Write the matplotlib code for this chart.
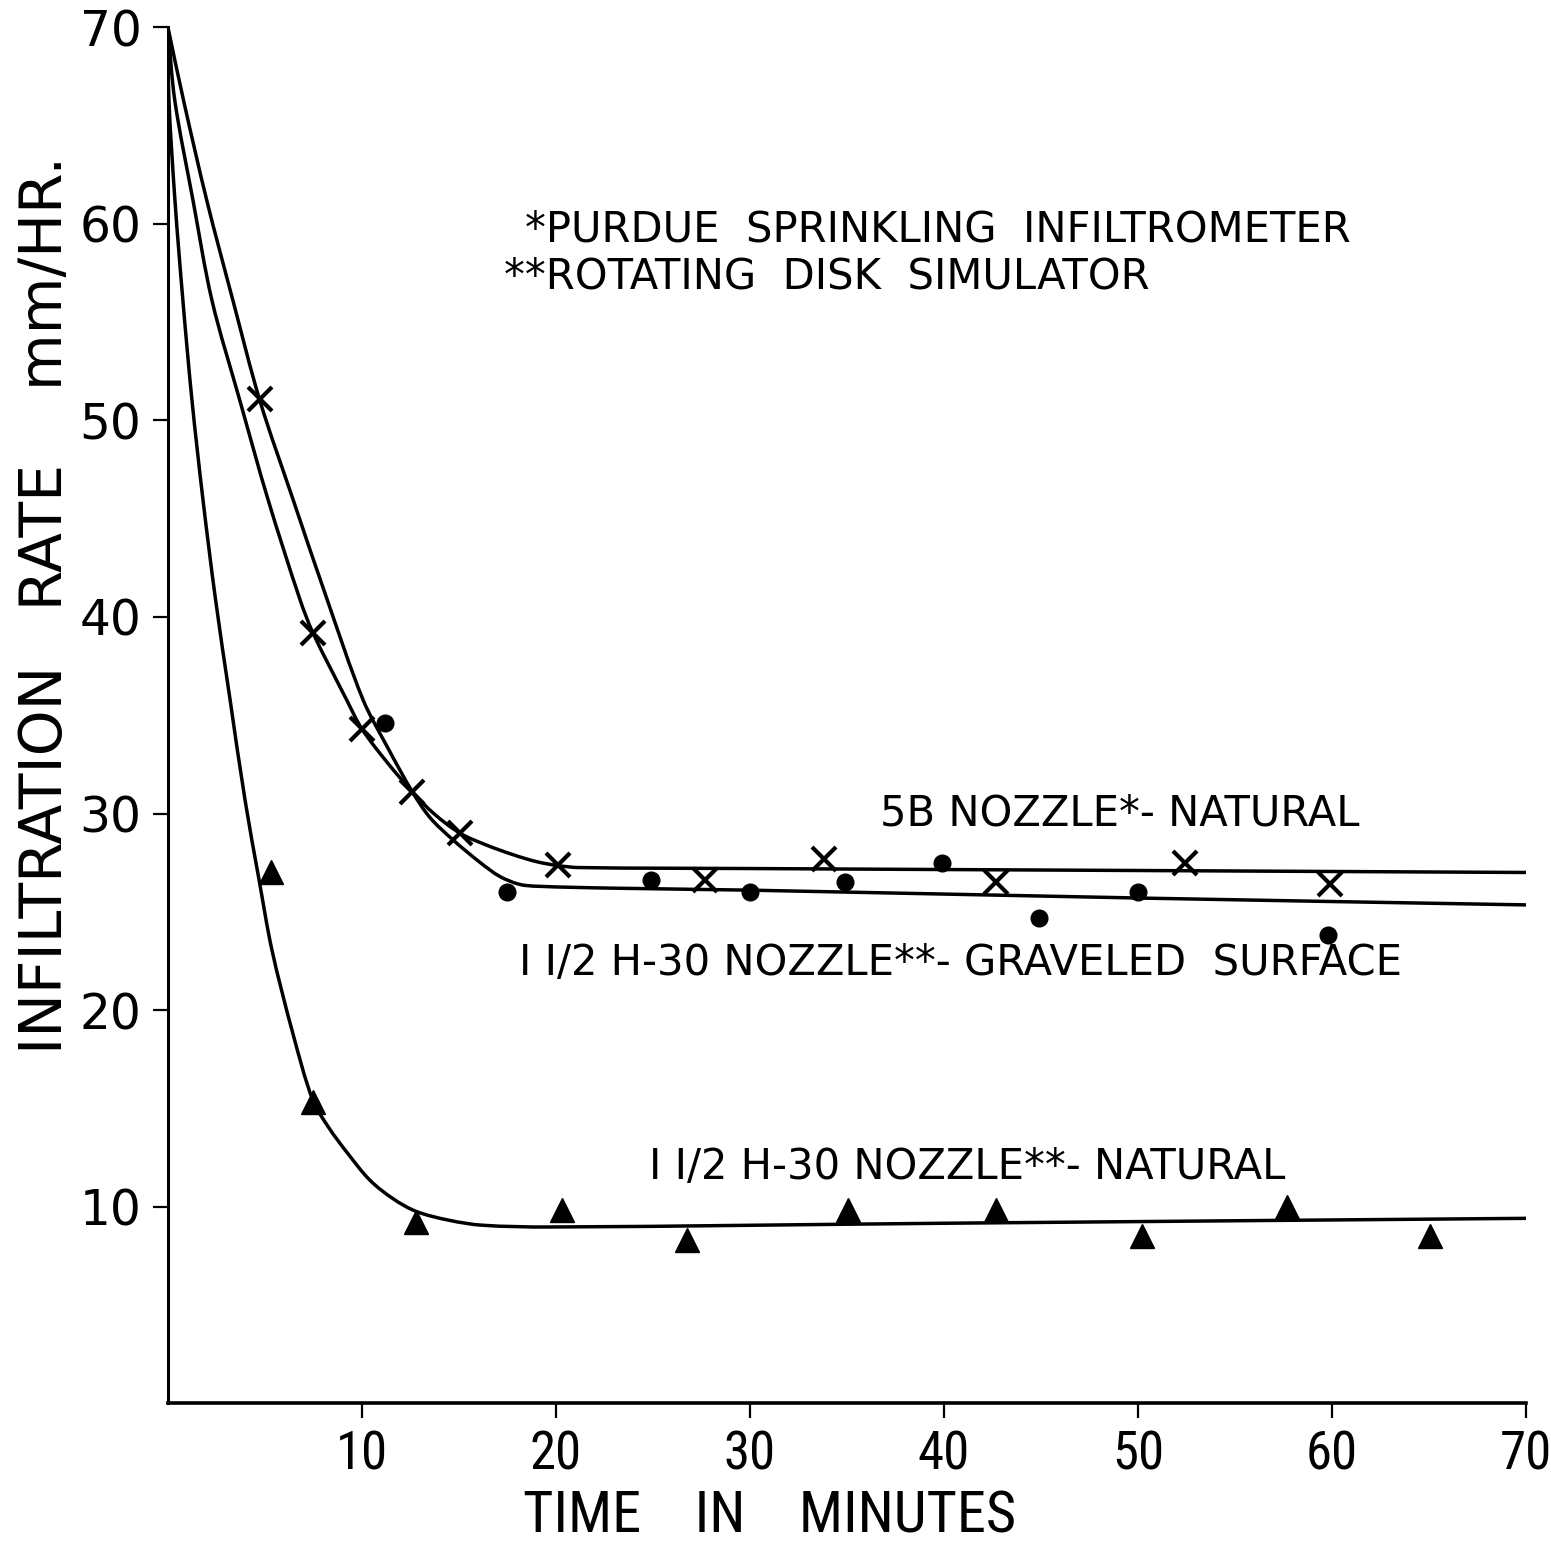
# Infiltration rate vs time, three nozzle / surface curves
import numpy as np
import matplotlib
matplotlib.use("Agg")
import matplotlib.pyplot as plt
from matplotlib.path import Path
from matplotlib.patches import PathPatch

OUT = "out.png"

# --- observed points -------------------------------------------------------
natural_5b_t = [4.74, 7.47, 10.0, 12.6, 15.05, 20.1, 27.7, 33.8, 42.7, 52.4, 59.9]
natural_5b_r = [51.1, 39.2, 34.3, 31.1, 29.0, 27.4, 26.6, 27.7, 26.5, 27.5, 26.4]

graveled_t = [11.2, 17.5, 24.9, 30.0, 34.9, 39.9, 44.9, 50.0, 59.8]
graveled_r = [34.6, 26.0, 26.6, 26.0, 26.5, 27.5, 24.7, 26.0, 23.8]

natural_h30_t = [5.3, 7.47, 12.8, 20.3, 26.75, 35.05, 42.7, 50.2, 57.7, 65.05]
natural_h30_r = [27.0, 15.3, 9.2, 9.8, 8.3, 9.8, 9.8, 8.5, 10.0, 8.5]

# --- hand-fitted curves ----------------------------------------------------
curve_5b_t = [0.0, 0.35, 1.29, 2.27, 3.71, 5.15, 6.8, 7.47, 9.2, 10.0, 11.3,
              12.6, 13.7, 15.05, 16.4, 17.8, 19.0, 20.1, 21.2, 30, 50, 70]
curve_5b_r = [70.0, 66.3, 61.2, 56.1, 51.0, 46.0, 40.9, 39.2, 35.8, 34.3, 32.6,
              31.1, 30.0, 29.0, 28.4, 27.9, 27.55, 27.35, 27.25, 27.2, 27.1, 27.0]

curve_grav_t = [0.0, 0.8, 2.0, 3.35, 4.74, 6.44, 8.2, 10.05, 11.3, 12.6, 13.5,
                14.7, 16.1, 17.1, 18.1, 19.0, 23.0, 30, 50, 70]
curve_grav_r = [70.0, 66.3, 61.2, 56.1, 51.0, 46.0, 40.9, 35.8, 33.4, 31.1, 29.8,
                28.65, 27.5, 26.8, 26.4, 26.3, 26.2, 26.1, 25.7, 25.35]

curve_h30_t = [0.0, 0.05, 0.36, 0.77, 1.24, 1.8, 2.45, 3.2, 3.97, 4.7, 5.36,
               6.44, 7.47, 8.3, 9.23, 10.4, 11.6, 12.8, 14.5, 16.2, 19.7, 40, 70]
curve_h30_r = [70.0, 66.3, 61.2, 56.1, 51.0, 46.0, 40.9, 35.8, 30.7, 26.6, 23.05,
               18.8, 15.4, 14.0, 12.75, 11.35, 10.4, 9.75, 9.3, 9.05, 8.96, 9.15, 9.4]

ticks = [10, 20, 30, 40, 50, 60, 70]

FONT = ["DejaVu Sans"]
NARROW = ["Roboto Condensed", "Liberation Sans", "DejaVu Sans"]


def smooth_curve(t, r):
    """Bezier path through the read-off points, like a french-curve drawing"""
    pts = np.column_stack([t, r]).astype(float)
    n = len(pts)
    tang = []
    for i in range(n):
        d = pts[min(i + 1, n - 1)] - pts[max(i - 1, 0)]
        tang.append(d / np.hypot(*d))
    verts = [pts[0]]
    codes = [Path.MOVETO]
    for i in range(n - 1):
        seg = np.hypot(*(pts[i + 1] - pts[i])) / 3
        verts += [pts[i] + tang[i] * seg, pts[i + 1] - tang[i + 1] * seg, pts[i + 1]]
        codes += [Path.CURVE4] * 3
    return Path(verts, codes)


def plot_infiltration():
    fig = plt.figure(figsize=(15.51, 15.42), dpi=100)
    ax = fig.add_axes([0.1083, 0.0901, 0.8756, 0.8921])

    for t, r in [(curve_5b_t, curve_5b_r), (curve_grav_t, curve_grav_r),
                 (curve_h30_t, curve_h30_r)]:
        ax.add_patch(PathPatch(smooth_curve(t, r), fill=False, ec="black",
                               lw=2.5, capstyle="round"))

    ax.plot(natural_5b_t, natural_5b_r, "x", color="black", ms=17, mew=3)
    ax.plot(graveled_t, graveled_r, "o", color="black", ms=12)
    ax.plot(natural_h30_t, natural_h30_r, "^", color="black", ms=17)

    ax.set_xlim(0, 70)
    ax.set_ylim(0, 70)
    for side in ("top", "right"):
        ax.spines[side].set_visible(False)
    ax.spines["left"].set_linewidth(2.2)
    ax.spines["bottom"].set_linewidth(2.6)

    ax.set_xticks(ticks)
    ax.set_yticks(ticks)
    ax.tick_params(axis="both", direction="out", length=11, width=1.6,
                   labelsize=35, pad=8)
    for lab in ax.get_yticklabels():
        lab.set_family(FONT)
    for lab in ax.get_xticklabels():
        lab.set_family(NARROW)
        lab.set_fontsize(38)

    ax.set_xlabel("TIME    IN    MINUTES", fontsize=42, family=NARROW)
    ax.xaxis.set_label_coords(0.443, -0.063)
    ax.set_ylabel("INFILTRATION   RATE    mm/HR.", fontsize=42, family=FONT)
    ax.yaxis.set_label_coords(-0.069, 0.58)

    kw = dict(fontsize=30, family=FONT, va="center", ha="left")
    ax.text(18.4, 59.7, "*PURDUE  SPRINKLING  INFILTROMETER", **kw)
    ax.text(17.3, 57.35, "**ROTATING  DISK  SIMULATOR", **kw)
    ax.text(36.7, 30.0, "5B NOZZLE*- NATURAL", **kw)
    ax.text(18.1, 22.4, "I I/2 H-30 NOZZLE**- GRAVELED  SURFACE", **kw)
    ax.text(24.8, 12.0, "I I/2 H-30 NOZZLE**- NATURAL", **kw)

    fig.savefig(OUT, dpi=100, facecolor="white")


if __name__ == "__main__":
    plot_infiltration()
